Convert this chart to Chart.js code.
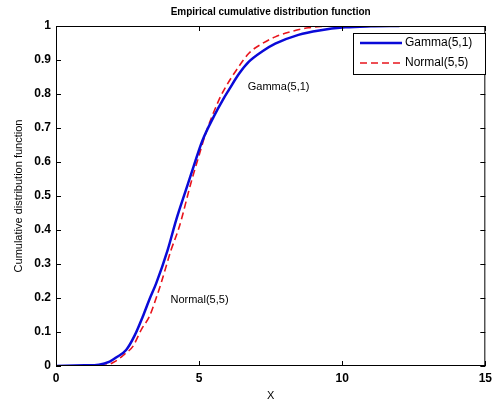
<!DOCTYPE html>
<html>
<head>
<meta charset="utf-8">
<script src="https://cdn.jsdelivr.net/npm/chart.js@4.4.0/dist/chart.umd.min.js"></script>
<style>
  html, body { margin: 0; padding: 0; background: #fff; }
  #wrap { width: 497px; height: 403px; }
</style>
</head>
<body>
<div id="wrap"><canvas id="cdf"></canvas></div>
<script>
// empirical CDF samples, read as (x, F(x)) pairs
const gammaX = [0, 1.0, 1.5, 1.875, 2.1, 2.45, 2.75, 3.03, 3.26, 3.5, 3.9, 4.2, 4.54, 4.8, 5.11, 5.52, 5.81, 6.04, 6.4, 6.74, 7.2, 7.66, 8.47, 9.2, 10.1, 11.0, 12.0];
const gammaY = [0, 0.002, 0.004, 0.013, 0.025, 0.047, 0.09, 0.145, 0.195, 0.243, 0.341, 0.43, 0.518, 0.585, 0.662, 0.735, 0.78, 0.812, 0.86, 0.895, 0.925, 0.948, 0.974, 0.987, 0.996, 0.999, 1];
const normalX = [0, 1.0, 1.7, 2.1, 2.4, 2.68, 3.0, 3.26, 3.5, 3.67, 4.02, 4.31, 4.71, 5.0, 5.23, 5.69, 5.93, 6.3, 6.74, 7.2, 7.66, 8.2, 8.82, 9.5];
const normalY = [0, 0.001, 0.002, 0.015, 0.035, 0.057, 0.11, 0.145, 0.2, 0.243, 0.341, 0.41, 0.537, 0.62, 0.684, 0.782, 0.821, 0.87, 0.92, 0.948, 0.968, 0.983, 0.995, 1];
const seriesNames = ['Gamma(5,1)', 'Normal(5,5)'];
const xTicks = [0, 5, 10, 15];

const toPoints = (xs, ys) => xs.map((x, i) => ({ x: x, y: ys[i] }));
const FONT = '"Liberation Sans", Arial, sans-serif';

// MATLAB style frame: box, inward ticks on all four sides, title, labels, legend
const matlabFrame = {
  id: 'matlabFrame',
  afterDraw(chart) {
    const ctx = chart.ctx;
    const a = chart.chartArea;
    const xs = chart.scales.x, ys = chart.scales.y;
    ctx.save();
    ctx.strokeStyle = '#000';
    ctx.lineWidth = 1;
    ctx.strokeRect(a.left + 0.5, a.top + 0.5, a.right - a.left - 1, a.bottom - a.top - 1);
    ctx.beginPath();
    xTicks.forEach(v => {
      const px = Math.round(xs.getPixelForValue(v)) + 0.5;
      ctx.moveTo(px, a.bottom); ctx.lineTo(px, a.bottom - 5);
      ctx.moveTo(px, a.top); ctx.lineTo(px, a.top + 5);
    });
    ys.ticks.forEach(t => {
      const py = Math.round(ys.getPixelForValue(t.value)) + 0.5;
      ctx.moveTo(a.left, py); ctx.lineTo(a.left + 5, py);
      ctx.moveTo(a.right, py); ctx.lineTo(a.right - 5, py);
    });
    ctx.stroke();

    // title
    ctx.fillStyle = '#000';
    ctx.font = 'bold 10px ' + FONT;
    ctx.textAlign = 'center';
    ctx.textBaseline = 'middle';
    ctx.fillText('Empirical cumulative distribution function', (a.left + a.right) / 2, 12);

    // curve annotations
    ctx.font = '11px ' + FONT;
    ctx.textAlign = 'left';
    ctx.fillText(seriesNames[0], xs.getPixelForValue(6.7), ys.getPixelForValue(0.82));
    ctx.fillText(seriesNames[1], xs.getPixelForValue(4.0), ys.getPixelForValue(0.195));

    // legend
    const lx = 353, ly = 33, lw = 132, lh = 41;
    ctx.fillStyle = '#fff';
    ctx.fillRect(lx, ly, lw, lh);
    ctx.strokeRect(lx + 0.5, ly + 0.5, lw, lh);
    chart.data.datasets.forEach((ds, i) => {
      const y = ly + 10 + i * 20;
      ctx.beginPath();
      ctx.strokeStyle = ds.borderColor;
      ctx.lineWidth = ds.borderWidth;
      ctx.setLineDash(ds.borderDash || []);
      ctx.moveTo(360, y); ctx.lineTo(402, y);
      ctx.stroke();
      ctx.setLineDash([]);
      ctx.fillStyle = '#000';
      ctx.font = '12px ' + FONT;
      ctx.fillText(seriesNames[i], 405, y);
    });
    ctx.restore();
  }
};

new Chart(document.getElementById('cdf'), {
  type: 'scatter',
  data: {
    datasets: [
      {
        label: seriesNames[0],
        data: toPoints(gammaX, gammaY),
        showLine: true,
        borderColor: '#0a0ad8',
        borderWidth: 2.5,
        pointRadius: 0,
        cubicInterpolationMode: 'monotone',
        fill: false
      },
      {
        label: seriesNames[1],
        data: toPoints(normalX, normalY),
        showLine: true,
        borderColor: '#e8141c',
        borderWidth: 1.6,
        borderDash: [7, 4],
        pointRadius: 0,
        cubicInterpolationMode: 'monotone',
        fill: false
      }
    ]
  },
  options: {
    responsive: true,
    maintainAspectRatio: false,
    animation: false,
    layout: { padding: { top: 26, right: 9, left: 0, bottom: 0 } },
    plugins: { legend: { display: false }, tooltip: { enabled: false } },
    scales: {
      x: {
        type: 'linear',
        min: 0, max: 15,
        afterBuildTicks: s => { s.ticks = xTicks.map(v => ({ value: v })); },
        afterFit: s => { s.height = 37; },
        grid: { display: false, drawTicks: false },
        border: { display: false },
        ticks: { color: '#000', padding: 5, font: { family: FONT, size: 12, weight: 'bold' } },
        title: { display: true, text: 'X', color: '#000', padding: { top: 2, bottom: 0 }, font: { family: FONT, size: 11 } }
      },
      y: {
        min: 0, max: 1,
        afterFit: s => { s.width = 56; },
        grid: { display: false, drawTicks: false },
        border: { display: false },
        ticks: {
          stepSize: 0.1, color: '#000', padding: 5,
          font: { family: FONT, size: 12, weight: 'bold' },
          callback: v => String(+v.toFixed(1))
        },
        title: { display: true, text: 'Cumulative distribution function', color: '#000', padding: { top: 12, bottom: 0 }, font: { family: FONT, size: 11 } }
      }
    }
  },
  plugins: [matlabFrame]
});
</script>
</body>
</html>
